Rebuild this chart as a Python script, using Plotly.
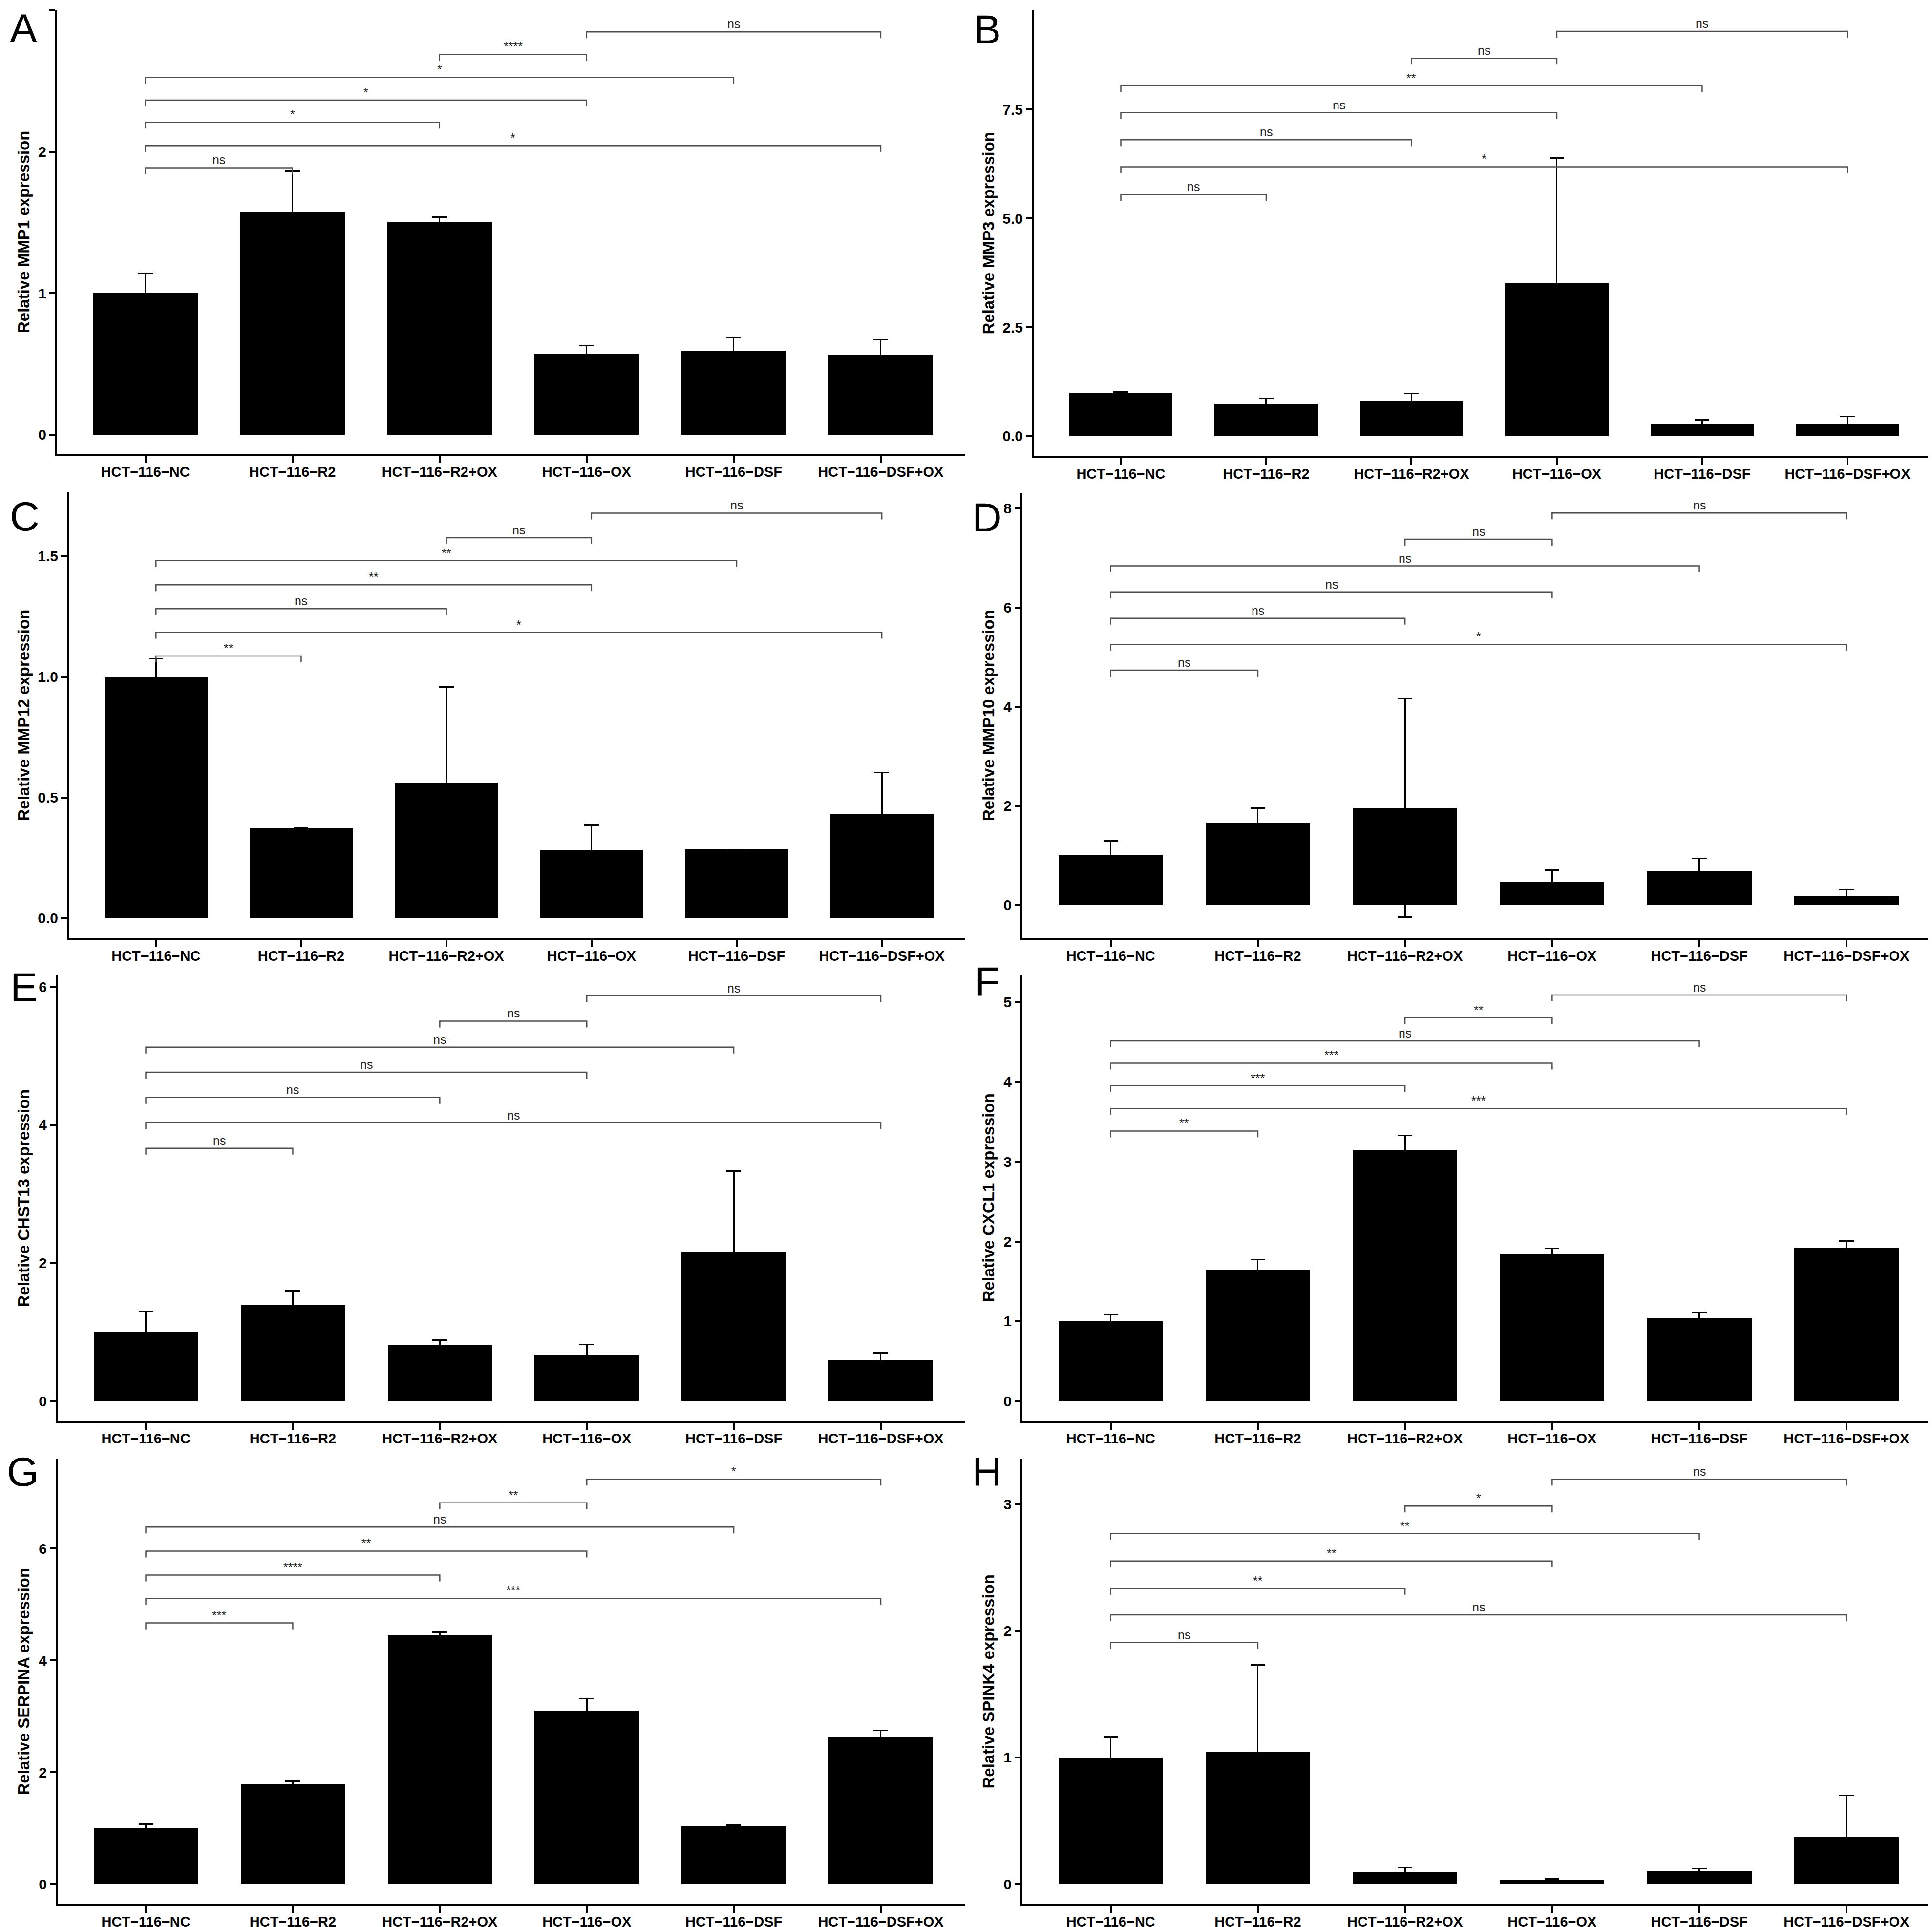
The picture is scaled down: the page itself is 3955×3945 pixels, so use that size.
import plotly.graph_objects as go

W, H = 3955, 3945

groups = ["HCT\u2212116\u2212NC", "HCT\u2212116\u2212R2", "HCT\u2212116\u2212R2+OX",
          "HCT\u2212116\u2212OX", "HCT\u2212116\u2212DSF", "HCT\u2212116\u2212DSF+OX"]

# comparisons (index into groups), bottom bracket first
pairs = [(0, 1), (0, 5), (0, 2), (0, 3), (0, 4), (2, 3), (3, 5)]

# A - MMP1
mmp1_mean = [1.00, 1.574, 1.502, 0.574, 0.589, 0.561]
mmp1_sd = [0.139, 0.289, 0.037, 0.054, 0.098, 0.111]
mmp1_sig = ["ns", "*", "*", "*", "*", "****", "ns"]
mmp1_lev = [1.887, 2.043, 2.209, 2.365, 2.526, 2.689, 2.848]

# B - MMP3
mmp3_mean = [1.00, 0.739, 0.803, 3.516, 0.270, 0.284]
mmp3_sd = [0.02, 0.127, 0.177, 2.876, 0.106, 0.171]
mmp3_sig = ["ns", "*", "ns", "ns", "**", "ns", "ns"]
mmp3_lev = [5.547, 6.186, 6.804, 7.429, 8.047, 8.679, 9.297]

# C - MMP12
mmp12_mean = [1.00, 0.373, 0.563, 0.282, 0.285, 0.431]
mmp12_sd = [0.076, 0.0, 0.395, 0.106, 0.0, 0.174]
mmp12_sig = ["**", "*", "ns", "**", "**", "ns", "ns"]
mmp12_lev = [1.087, 1.185, 1.283, 1.382, 1.482, 1.577, 1.679]

# D - MMP10
mmp10_mean = [1.00, 1.653, 1.959, 0.474, 0.680, 0.187]
mmp10_sd = [0.29, 0.306, 2.202, 0.225, 0.256, 0.131]
mmp10_sig = ["ns", "*", "ns", "ns", "ns", "ns", "ns"]
mmp10_lev = [4.735, 5.253, 5.783, 6.313, 6.837, 7.374, 7.904]

# E - CHST13
chst13_mean = [1.00, 1.384, 0.815, 0.672, 2.150, 0.587]
chst13_sd = [0.30, 0.211, 0.068, 0.148, 1.179, 0.112]
chst13_sig = ["ns", "ns", "ns", "ns", "ns", "ns", "ns"]
chst13_lev = [3.660, 4.028, 4.395, 4.762, 5.125, 5.502, 5.869]

# F - CXCL1
cxcl1_mean = [1.00, 1.651, 3.143, 1.838, 1.041, 1.919]
cxcl1_sd = [0.08, 0.124, 0.183, 0.070, 0.074, 0.086]
cxcl1_sig = ["**", "***", "***", "***", "ns", "**", "ns"]
cxcl1_lev = [3.384, 3.667, 3.951, 4.235, 4.514, 4.802, 5.089]

# G - SERPINA
serpina_mean = [1.00, 1.781, 4.446, 3.105, 1.030, 2.632]
serpina_sd = [0.072, 0.061, 0.056, 0.212, 0.027, 0.112]
serpina_sig = ["***", "***", "****", "**", "ns", "**", "*"]
serpina_lev = [4.669, 5.109, 5.526, 5.954, 6.383, 6.817, 7.240]

# H - SPINK4
spink4_mean = [1.00, 1.047, 0.098, 0.030, 0.101, 0.369]
spink4_sd = [0.161, 0.686, 0.030, 0.009, 0.022, 0.332]
spink4_sig = ["ns", "ns", "**", "**", "**", "*", "ns"]
spink4_lev = [1.908, 2.127, 2.336, 2.552, 2.769, 2.987, 3.199]

panels = [
    ("A", "MMP1", mmp1_mean, mmp1_sd, mmp1_sig, mmp1_lev),
    ("B", "MMP3", mmp3_mean, mmp3_sd, mmp3_sig, mmp3_lev),
    ("C", "MMP12", mmp12_mean, mmp12_sd, mmp12_sig, mmp12_lev),
    ("D", "MMP10", mmp10_mean, mmp10_sd, mmp10_sig, mmp10_lev),
    ("E", "CHST13", chst13_mean, chst13_sd, chst13_sig, chst13_lev),
    ("F", "CXCL1", cxcl1_mean, cxcl1_sd, cxcl1_sig, cxcl1_lev),
    ("G", "SERPINA", serpina_mean, serpina_sd, serpina_sig, serpina_lev),
    ("H", "SPINK4", spink4_mean, spink4_sd, spink4_sig, spink4_lev),
]

# pixel layout: x-left, x-right, y-top, y-bottom, y-range, dtick, tick format, letter centre
geom = [
    (109, 1968, 12, 922, [-0.139, 3.004], 1, "d", (40, 50)),
    (2108, 3945, 13, 926, [-0.46, 9.78], 2.5, ".1f", (2013, 52)),
    (133, 1968, 1000, 1913, [-0.083, 1.765], 0.5, ".1f", (42, 1049)),
    (2085, 3945, 1001, 1913, [-0.67, 8.31], 2, "d", (2013, 1051)),
    (110, 1968, 1988, 2901, [-0.29, 6.17], 2, "d", (41, 2013)),
    (2085, 3945, 1988, 2901, [-0.25, 5.34], 1, "d", (2013, 2001)),
    (110, 1968, 2979, 3890, [-0.358, 7.60], 2, "d", (38, 3005)),
    (2085, 3945, 2979, 3890, [-0.158, 3.358], 1, "d", (2013, 3005)),
]

FONT = "Arial, Liberation Sans, sans-serif"
fig = go.Figure()
annotations = []
x = list(range(len(groups)))

for i, ((letter, gene, mean, sd, sig, lev), g) in enumerate(zip(panels, geom)):
    n = i + 1
    xa = "x" if n == 1 else f"x{n}"
    ya = "y" if n == 1 else f"y{n}"
    px0, px1, pyt, pyb, yr, dt, fmt, lc = g

    fig.add_trace(go.Bar(
        x=x, y=mean, width=0.71, marker=dict(color="black", line=dict(width=0)),
        error_y=dict(type="data", array=sd, color="black", thickness=3, width=15),
        xaxis=xa, yaxis=ya, showlegend=False))

    # significance brackets
    tip = 13 * (yr[1] - yr[0]) / (pyb - pyt)
    bx, by = [], []
    for (a, b), lv, s in zip(pairs, lev, sig):
        bx += [a, a, b, b, None]
        by += [lv - tip, lv, lv, lv - tip, None]
        annotations.append(dict(x=(a + b) / 2, y=lv, xref=xa, yref=ya, text=s,
                                showarrow=False, yanchor="bottom",
                                font=dict(family=FONT, size=25, color="#222")))
    fig.add_trace(go.Scatter(x=bx, y=by, mode="lines", line=dict(color="#4d4d4d", width=2.5),
                             xaxis=xa, yaxis=ya, showlegend=False, hoverinfo="skip"))

    fig.layout[("xaxis" if n == 1 else f"xaxis{n}")] = dict(
        domain=[px0 / W, px1 / W], range=[-0.6, 5.575], anchor=ya,
        tickvals=x, ticktext=groups, ticks="outside", ticklen=14, tickwidth=3.5,
        tickcolor="black", showline=True, linewidth=4, linecolor="black",
        showgrid=False, zeroline=False, ticklabelstandoff=-7,
        tickfont=dict(family=FONT, size=29, color="black", weight="bold"))
    fig.layout[("yaxis" if n == 1 else f"yaxis{n}")] = dict(
        domain=[1 - pyb / H, 1 - pyt / H], range=yr, anchor=xa,
        tick0=0, dtick=dt, tickformat=fmt, ticks="outside", ticklen=12, tickwidth=3.5,
        tickcolor="black", showline=True, linewidth=4, linecolor="black",
        showgrid=False, zeroline=False,
        tickfont=dict(family=FONT, size=30, color="black", weight="bold"))

    # y title
    tx = 40 if px0 < 1000 else 2015
    annotations.append(dict(x=tx / W, y=1 - (pyt + pyb) / 2 / H, xref="paper", yref="paper",
                            text=f"Relative {gene} expression", textangle=-90,
                            showarrow=False, xanchor="center", yanchor="middle",
                            font=dict(family=FONT, size=33, color="black", weight="bold")))
    # panel letter
    annotations.append(dict(x=lc[0] / W, y=1 - lc[1] / H, xref="paper", yref="paper",
                            text=letter, showarrow=False, xanchor="center", yanchor="middle",
                            font=dict(family=FONT, size=84, color="black")))

fig.update_layout(
    width=W, height=H, autosize=False,
    margin=dict(l=0, r=0, t=0, b=0),
    plot_bgcolor="white", paper_bgcolor="white",
    bargap=0, annotations=annotations)

fig.write_html("out.html")
